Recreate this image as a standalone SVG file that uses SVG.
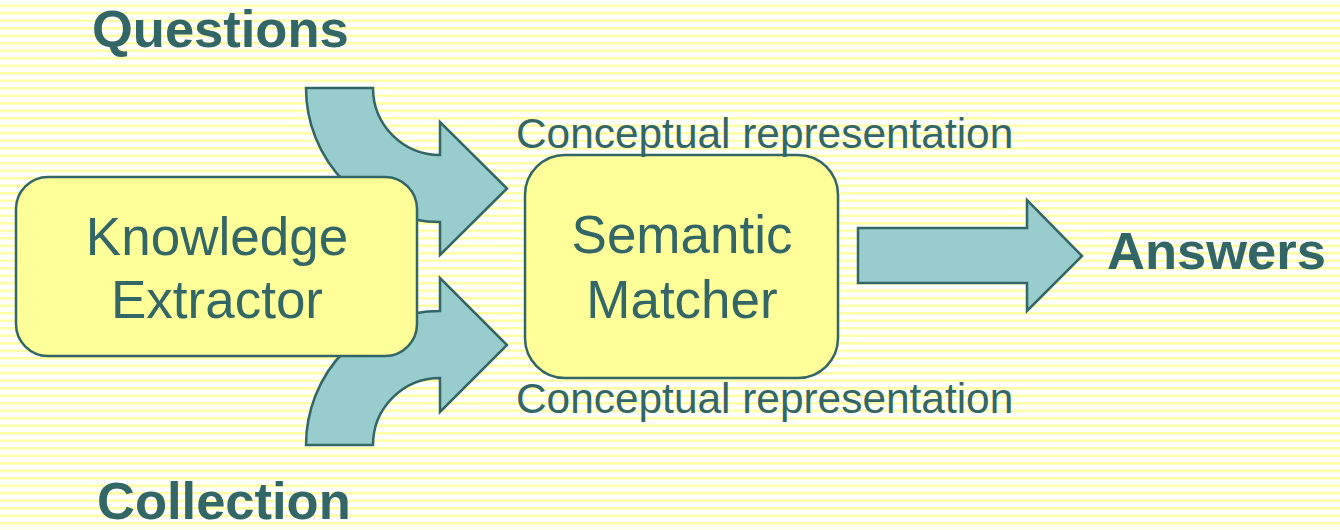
<svg xmlns="http://www.w3.org/2000/svg" width="1340" height="530" viewBox="0 0 1340 530">
<defs>
<pattern id="stripes" x="0" y="4.5" width="20" height="7.5" patternUnits="userSpaceOnUse">
<rect x="0" y="0" width="20" height="2.6" fill="#FFFFA6"/>
</pattern>
</defs>
<style>
.arrow{fill:#99CCCC;stroke:#336666;stroke-width:2.5;stroke-linejoin:miter}
.box{fill:#FFFF99;stroke:#336666;stroke-width:2.5}
.t{font-family:"Liberation Sans",Arial,sans-serif;fill:#336666}
.big{font-size:53px;text-anchor:middle}
.bold{font-size:52.5px;font-weight:bold}
.lab{font-size:42.4px}
</style>
<rect width="1340" height="530" fill="#FFFFFF"/>
<rect width="1340" height="530" fill="url(#stripes)"/>
<g id="connectors">
<path class="arrow" d="M306,88 L373,88 A67,67 0 0 0 440,155 L440,122 L507,188.5 L440,255 L440,222 A134,134 0 0 1 306,88 Z"/>
<path class="arrow" d="M306,445 L373,445 A67,67 0 0 1 440,378 L440,412 L507,345 L440,278 L440,311 A134,134 0 0 0 306,445 Z"/>
<path class="arrow" d="M858,228 L1027,228 L1027,200 L1082,256 L1027,311 L1027,283 L858,283 Z"/>
</g>
<g id="knowledge-extractor">
<rect class="box" x="16" y="177" width="401" height="179" rx="32" ry="32"/>
<text class="t big" x="217" y="255">Knowledge</text>
<text class="t big" x="217" y="318">Extractor</text>
</g>
<g id="semantic-matcher">
<rect class="box" x="525" y="155" width="313" height="223" rx="40" ry="40"/>
<text class="t big" x="682" y="253">Semantic</text>
<text class="t big" x="682" y="318">Matcher</text>
</g>
<g id="questions">
<text class="t bold" x="92" y="47">Questions</text>
</g>
<g id="collection">
<text class="t bold" x="97" y="519">Collection</text>
</g>
<g id="answers">
<text class="t bold" x="1107" y="269">Answers</text>
</g>
<g id="labels">
<text class="t lab" x="516" y="148">Conceptual representation</text>
<text class="t lab" x="516" y="413">Conceptual representation</text>
</g>
</svg>
